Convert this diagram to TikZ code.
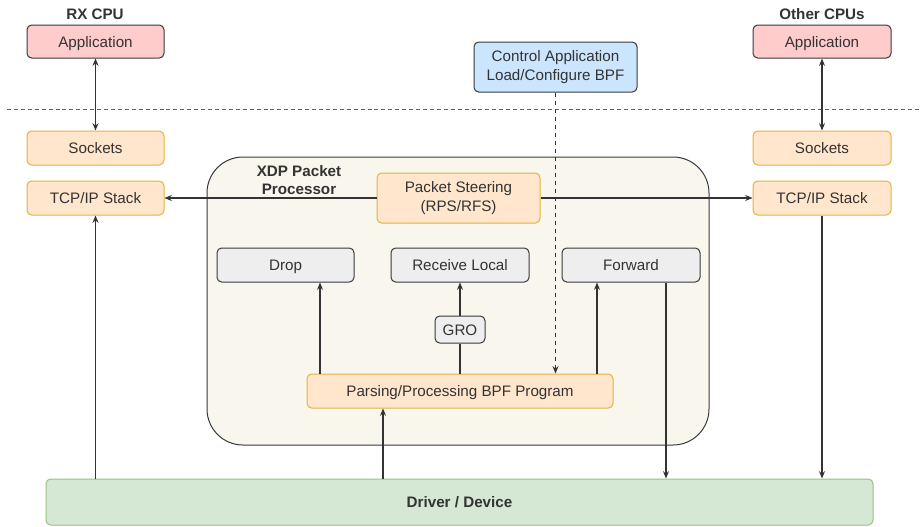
\documentclass[tikz,border=0pt]{standalone}
\usepackage{fontspec}
\setmainfont{Liberation Sans}
\usetikzlibrary{arrows.meta}
\definecolor{txt}{HTML}{333333}
\definecolor{edge}{HTML}{36393D}
\definecolor{appfill}{HTML}{FFCCCC}
\definecolor{orfill}{HTML}{FFE6CC}
\definecolor{ordraw}{HTML}{E3B341}
\definecolor{grfill}{HTML}{EEEEEE}
\definecolor{bluefill}{HTML}{CCE5FF}
\definecolor{drvfill}{HTML}{D5E8D4}
\definecolor{drvdraw}{HTML}{97C47E}
\definecolor{xdpfill}{HTML}{F9F7ED}
\begin{document}
\begin{tikzpicture}[x=0.75pt,y=-0.75pt,
  font=\fontsize{11.4}{13.6}\selectfont, text=txt,
  box/.style={draw=edge, line width=0.75pt, rounded corners=3.5pt, align=center, inner sep=0pt},
  oneline/.style={text height=0.9em, text depth=0.06em},
  appbox/.style={box, oneline, fill=appfill},
  orbox/.style={box, draw=ordraw, fill=orfill},
  graybox/.style={box, oneline, fill=grfill},
  arr/.style={draw=txt, line width=1.1pt, -{Stealth[length=5.5pt,width=4.5pt]}},
  twoarr/.style={arr, {Stealth[length=5.5pt,width=4.5pt]}-{Stealth[length=5.5pt,width=4.5pt]}},
  lbl/.style={font=\fontsize{11.4}{13.6}\selectfont\bfseries}]
\def\u{0.75pt}
\useasboundingbox (0,0) rectangle (921,526);
% container first
\node[draw=edge, line width=0.75pt, fill=xdpfill, rounded corners=27pt,
  minimum width=502*\u, minimum height=288*\u] (xdp) at (458,301) {};
\node[lbl, align=center] (xdplbl) at (299,180) {XDP Packet\\Processor};
% RX CPU side
\node[lbl] (rxlbl) at (95,14) {RX CPU};
\node[appbox, minimum width=137*\u, minimum height=33*\u] (appL) at (95.5,41.5) {Application};
\node[orbox, oneline, minimum width=137*\u, minimum height=34*\u] (sockL) at (95.5,148) {Sockets};
\node[orbox, oneline, minimum width=137*\u, minimum height=34*\u] (tcpL) at (95.5,198) {TCP/IP Stack};
% other CPUs side
\node[lbl] (otherlbl) at (822,14) {Other CPUs};
\node[appbox, minimum width=138*\u, minimum height=33*\u] (appR) at (822,41.5) {Application};
\node[orbox, oneline, minimum width=138*\u, minimum height=34*\u] (sockR) at (822,148) {Sockets};
\node[orbox, oneline, minimum width=138*\u, minimum height=34*\u] (tcpR) at (822,198) {TCP/IP Stack};
% control
\node[box, fill=bluefill, minimum width=163*\u, minimum height=50*\u] (ctrl) at (555.5,67) {Control Application\\Load/Configure BPF};
\draw[draw=edge!80, line width=0.75pt, dash pattern=on 3pt off 2.2pt] (7,109) -- (921,109);
% inside XDP
\node[orbox, minimum width=163*\u, minimum height=50*\u] (ps) at (458.5,198) {Packet Steering\\(RPS/RFS)};
\node[graybox, minimum width=137*\u, minimum height=34*\u] (drop) at (285.5,265) {Drop};
\node[graybox, minimum width=138*\u, minimum height=34*\u] (recv) at (460,265) {Receive Local};
\node[graybox, minimum width=138*\u, minimum height=34*\u] (fwd) at (631,265) {Forward};
\node[graybox, minimum width=50*\u, minimum height=27*\u] (gro) at (460,329.5) {GRO};
\node[orbox, oneline, minimum width=306*\u, minimum height=34*\u] (parse) at (460,391) {Parsing/Processing BPF Program};
\node[box, oneline, draw=drvdraw, fill=drvfill, minimum width=827*\u, minimum height=46*\u, font=\fontsize{11.4}{13.6}\selectfont\bfseries] (drv) at (459.5,502) {Driver / Device};
% connectors
\coordinate (p1) at ([xshift=-140*\u]parse.north);
\coordinate (p3) at ([xshift=137*\u]parse.north);
\coordinate (p4) at ([xshift=-77*\u]parse.south);
\coordinate (f1) at ([xshift=35*\u]fwd.south);
\draw[twoarr] (appL) -- (sockL);
\draw[twoarr] (appR) -- (sockR);
\draw[arr] (drv.north -| tcpL) -- (tcpL);
\draw[arr] (tcpR) -- (drv.north -| tcpR);
\draw[arr] (ps.west) -- (tcpL.east);
\draw[arr] (ps.east) -- (tcpR.west);
\draw[arr, dash pattern=on 3pt off 3pt] (ctrl.south) -- (ctrl.south |- parse.north);
\draw[arr] (p1) -- (p1 |- drop.south);
\draw[draw=txt, line width=1.1pt] (parse.north) -- (gro.south);
\draw[arr] (gro) -- (recv);
\draw[arr] (p3) -- (p3 |- fwd.south);
\draw[arr] (f1) -- (f1 |- drv.north);
\draw[arr] (p4 |- drv.north) -- (p4);
\end{tikzpicture}
\end{document}
